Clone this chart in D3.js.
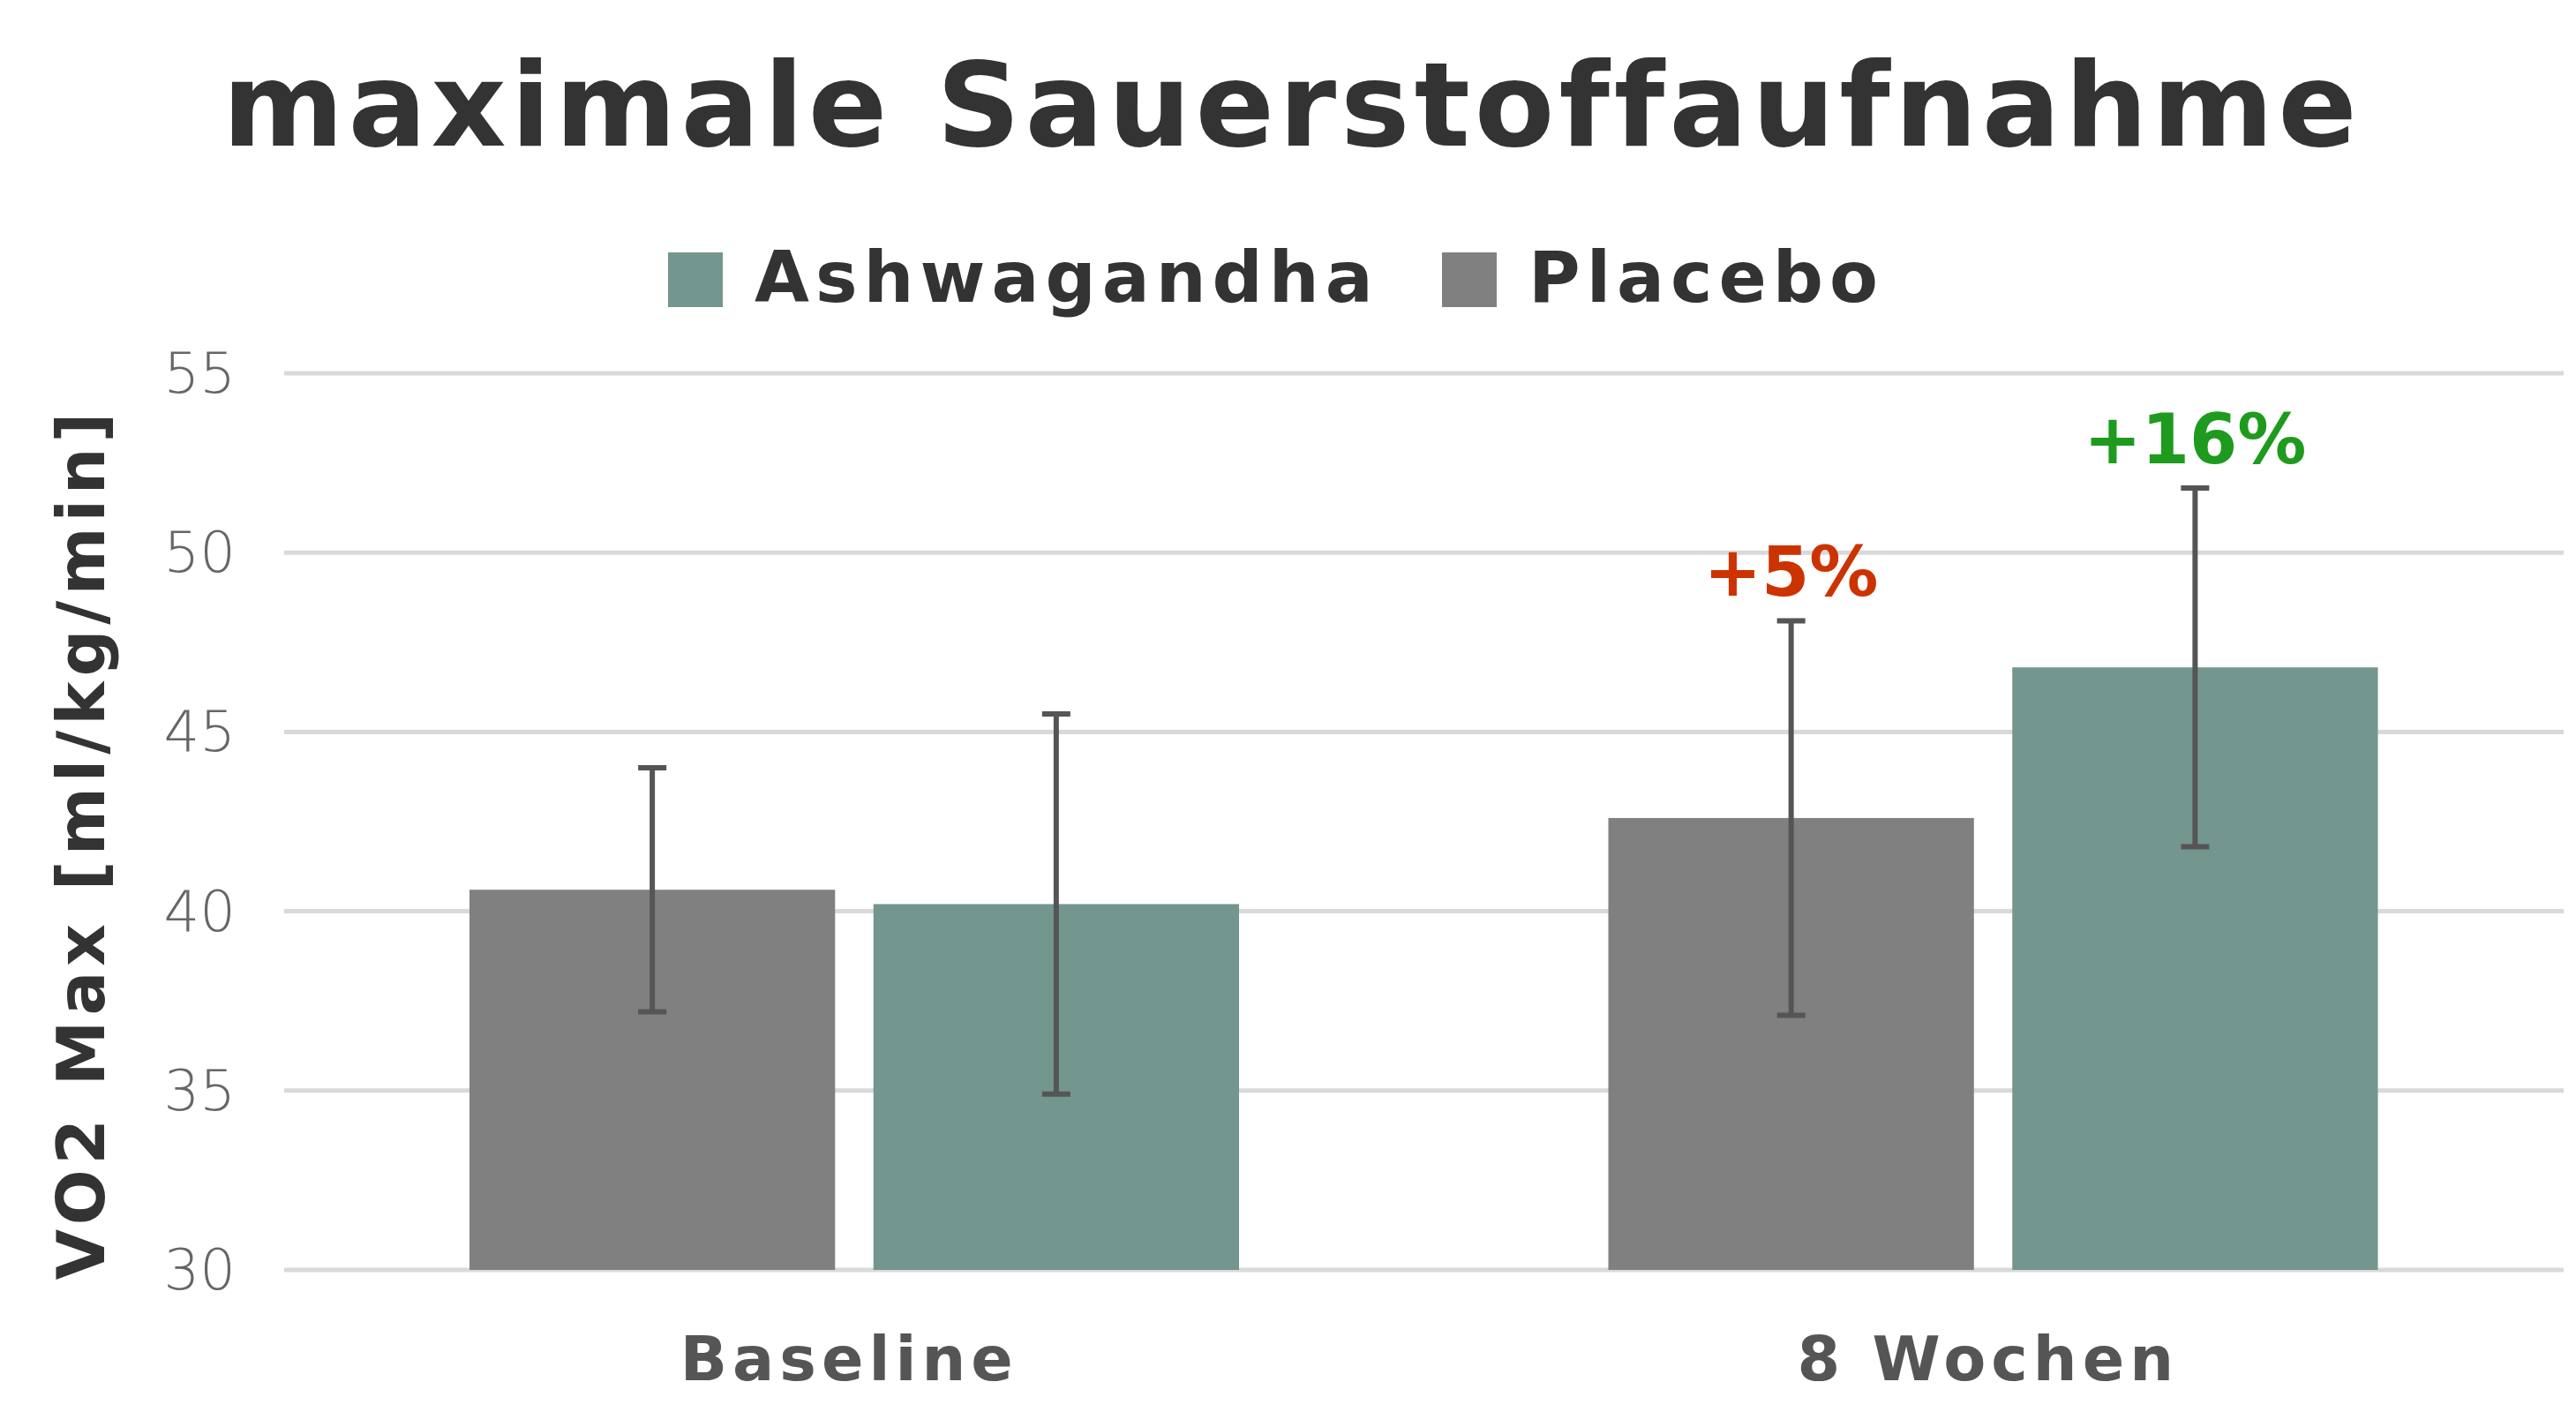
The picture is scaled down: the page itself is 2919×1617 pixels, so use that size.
<!DOCTYPE html>
<html><head><meta charset="utf-8">
<script src="https://cdn.jsdelivr.net/npm/d3@7"></script>
<style>body{margin:0;background:#fff}</style>
</head><body><div id="plot"></div>
<script>
// data
const categories = ["Baseline", "8 Wochen"];
const groups = ["Placebo", "Ashwagandha"];
const legendOrder = ["Ashwagandha", "Placebo"];
const placebo = [40.6, 42.6];
const placeboLow = [37.2, 37.1];
const placeboHigh = [44.0, 48.1];
const ashwa = [40.2, 46.8];
const ashwaLow = [34.9, 41.8];
const ashwaHigh = [45.5, 51.8];
const yTicks = [30, 35, 40, 45, 50, 55];
const notes = [
  {cat: "8 Wochen", group: "Placebo", text: "+5%", color: "#cc3300"},
  {cat: "8 Wochen", group: "Ashwagandha", text: "+16%", color: "#1e9b1e"}
];

const w = 2919, h = 1617;
const margin = {top: 423, right: 16, bottom: 178, left: 322};
const innerWidth = w - margin.left - margin.right;
const innerHeight = h - margin.top - margin.bottom;
const colors = {Placebo: "#808080", Ashwagandha: "#73968f"};
const font = "'DejaVu Sans', sans-serif";

const rows = [];
categories.forEach((c, i) => {
  rows.push({cat: c, group: "Placebo", v: placebo[i], lo: placeboLow[i], hi: placeboHigh[i]});
  rows.push({cat: c, group: "Ashwagandha", v: ashwa[i], lo: ashwaLow[i], hi: ashwaHigh[i]});
});

const svg = d3.select("div#plot").append("svg")
  .attr("width", w).attr("height", h);

// title
svg.append("text")
  .attr("x", 252).attr("y", 165)
  .attr("font-family", font).attr("font-weight", "bold")
  .attr("font-size", 132).attr("fill", "#333")
  .attr("letter-spacing", 5)
  .text("maximale Sauerstoffaufnahme");

// legend
const leg = svg.append("g").attr("transform", "translate(757, 282)");
const legX = [0, 877];
legendOrder.forEach((g, i) => {
  leg.append("rect").attr("x", legX[i]).attr("y", 4).attr("width", 62).attr("height", 62)
    .attr("fill", colors[g]);
  leg.append("text").attr("x", legX[i] + 98).attr("y", 60)
    .attr("font-family", font).attr("font-weight", "bold").attr("font-size", 80)
    .attr("letter-spacing", 7).attr("fill", "#333").text(g);
});

const g = svg.append("g").attr("transform", `translate(${margin.left},${margin.top})`);

const x0 = d3.scaleBand().domain(categories).range([0, innerWidth]);
const x1 = d3.scaleBand().domain(groups).range([210, 1082]).paddingInner(0.095);
const y = d3.scaleLinear().domain([30, 55]).range([innerHeight, 0]);

// grid
g.selectAll("line.grid").data(yTicks).enter().append("line")
  .attr("x1", 0).attr("x2", 2583)
  .attr("y1", d => y(d)).attr("y2", d => y(d))
  .attr("stroke", "#d9d9d9").attr("stroke-width", 5);

// y tick labels
g.selectAll("text.tick").data(yTicks).enter().append("text")
  .attr("x", -55).attr("y", d => y(d) + 22)
  .attr("text-anchor", "end")
  .attr("font-family", font).attr("font-weight", 300).attr("font-size", 64)
  .attr("fill", "#666").text(d => d);

// bars
g.selectAll("rect.bar").data(rows).enter().append("rect")
  .attr("x", d => x0(d.cat) + x1(d.group))
  .attr("y", d => y(d.v))
  .attr("width", x1.bandwidth())
  .attr("height", d => y(30) - y(d.v))
  .attr("fill", d => colors[d.group]);

// error bars
const cx = d => x0(d.cat) + x1(d.group) + x1.bandwidth() / 2;
const eb = g.selectAll("g.err").data(rows).enter().append("g")
  .attr("stroke", "#555").attr("stroke-width", 6);
eb.append("line").attr("x1", cx).attr("x2", cx).attr("y1", d => y(d.lo)).attr("y2", d => y(d.hi));
eb.append("line").attr("x1", d => cx(d) - 16).attr("x2", d => cx(d) + 16).attr("y1", d => y(d.lo)).attr("y2", d => y(d.lo));
eb.append("line").attr("x1", d => cx(d) - 16).attr("x2", d => cx(d) + 16).attr("y1", d => y(d.hi)).attr("y2", d => y(d.hi));

// annotations
notes.forEach(n => {
  const r = rows.find(d => d.cat === n.cat && d.group === n.group);
  g.append("text").attr("x", cx(r)).attr("y", y(r.hi) - 28)
    .attr("text-anchor", "middle")
    .attr("font-family", font).attr("font-weight", "bold").attr("font-size", 78)
    .attr("fill", n.color).text(n.text);
});

// x labels
g.selectAll("text.cat").data(categories).enter().append("text")
  .attr("x", d => x0(d) + x0.bandwidth() / 2 - 5)
  .attr("y", innerHeight + 125)
  .attr("text-anchor", "middle")
  .attr("font-family", font).attr("font-weight", "bold").attr("font-size", 70)
  .attr("letter-spacing", 6).attr("fill", "#555").text(d => d);

// y label
svg.append("text")
  .attr("transform", `translate(118, ${margin.top + innerHeight / 2 + 25}) rotate(-90)`)
  .attr("text-anchor", "middle")
  .attr("font-family", font).attr("font-weight", "bold").attr("font-size", 74)
  .attr("letter-spacing", 6).attr("fill", "#333")
  .text("VO2 Max [ml/kg/min]");
</script>
</body></html>
